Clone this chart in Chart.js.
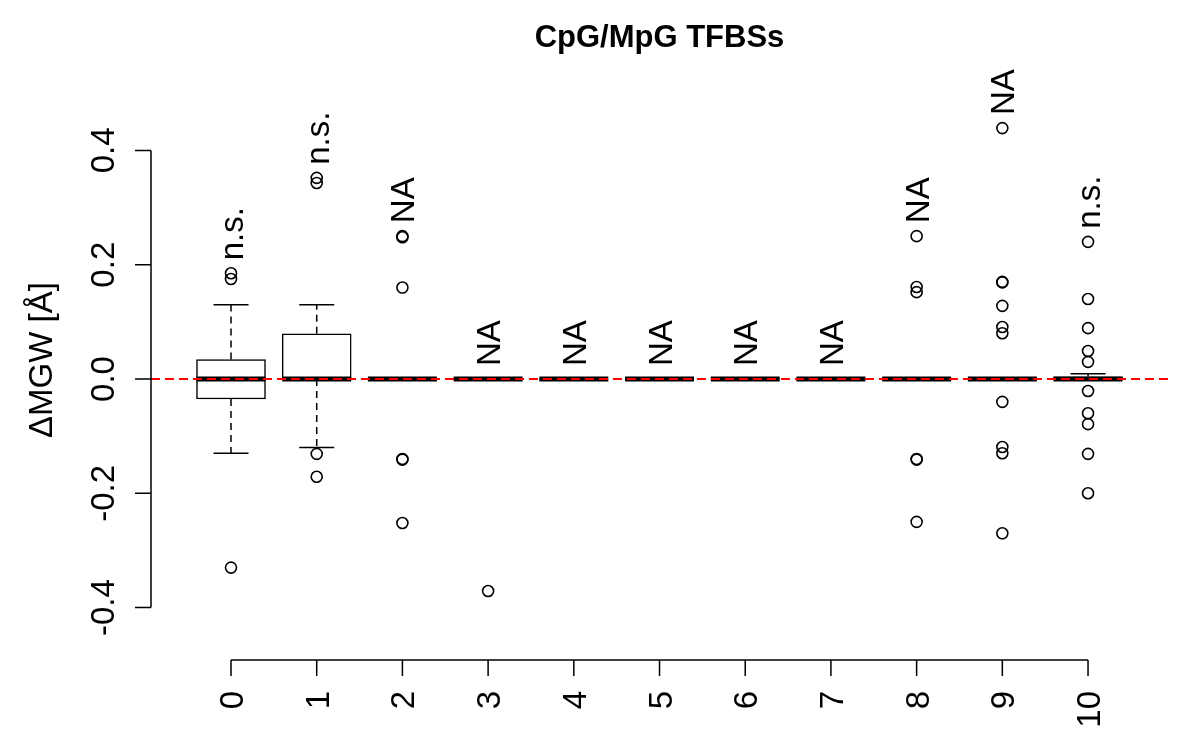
<!DOCTYPE html>
<html>
<head>
<meta charset="utf-8">
<title>CpG/MpG TFBSs</title>
<script src="https://cdn.jsdelivr.net/npm/chart.js@4"></script>
<style>
  html, body { margin: 0; padding: 0; background: #ffffff; }
  canvas { display: block; }
</style>
</head>
<body>
<canvas id="boxplotMGW" width="1200" height="750"></canvas>
<script>
// categories on the x axis
const categories = ['0', '1', '2', '3', '4', '5', '6', '7', '8', '9', '10'];

// box statistics, one value per category
const lowerWhisker = [-0.13, -0.12, 0, 0, 0, 0, 0, 0, 0, 0, 0];
const q1 = [-0.035, 0, 0, 0, 0, 0, 0, 0, 0, 0, 0];
const medians = [0, 0, 0, 0, 0, 0, 0, 0, 0, 0, 0];
const q3 = [0.034, 0.079, 0, 0, 0, 0, 0, 0, 0, 0, 0.004];
const upperWhisker = [0.13, 0.13, 0, 0, 0, 0, 0, 0, 0, 0, 0.009];

// outliers per category
const outliers = [
  [0.185, 0.175, -0.33],
  [0.352, 0.343, -0.131, -0.171],
  [0.25, 0.248, 0.16, -0.14, -0.141, -0.252],
  [-0.371],
  [],
  [],
  [],
  [],
  [0.25, 0.161, 0.152, -0.14, -0.141, -0.25],
  [0.439, 0.17, 0.169, 0.128, 0.091, 0.08, -0.04, -0.119, -0.13, -0.27],
  [0.24, 0.14, 0.089, 0.049, 0.03, -0.021, -0.06, -0.079, -0.131, -0.2]
];

// test result written above each box
const significance = ['n.s.', 'n.s.', 'NA', 'NA', 'NA', 'NA', 'NA', 'NA', 'NA', 'NA', 'n.s.'];

// y tick values
const yTicks = [-0.4, -0.2, 0, 0.2, 0.4];

const titleText = 'CpG/MpG TFBSs';
const yTitle = 'ΔMGW [Å]';

// plot limits (R style, 4% extension)
const xMin = 0.0665, xMax = 11.933;
const yMin = -0.4042, yMax = 0.4707;

const FONT = "'Liberation Sans', Arial, Helvetica, sans-serif";

// positions of categories on the linear x scale
const xPos = categories.map((c, i) => i + 1);

// whisker segments, separated by gaps
const whiskerData = [];
xPos.forEach((x, i) => {
  whiskerData.push({x: x, y: q3[i]}, {x: x, y: upperWhisker[i]}, {x: x, y: null});
  whiskerData.push({x: x, y: q1[i]}, {x: x, y: lowerWhisker[i]}, {x: x, y: null});
});

const capData = [];
xPos.forEach((x, i) => {
  capData.push({x: x, y: upperWhisker[i]}, {x: x, y: lowerWhisker[i]});
});

const outlierData = [];
xPos.forEach((x, i) => {
  outliers[i].forEach(v => outlierData.push({x: x, y: v}));
});

// axes drawn the R way (offset x axis, rotated labels)
const rAxes = {
  id: 'rAxes',
  afterDraw(chart) {
    const ctx = chart.ctx;
    const xs = chart.scales.x, ys = chart.scales.y;
    const area = chart.chartArea;
    ctx.save();
    ctx.strokeStyle = '#000';
    ctx.fillStyle = '#000';
    ctx.lineWidth = 1.5;

    // y axis
    const yAxisX = area.left;
    ctx.beginPath();
    ctx.moveTo(yAxisX, ys.getPixelForValue(yTicks[0]));
    ctx.lineTo(yAxisX, ys.getPixelForValue(yTicks[yTicks.length - 1]));
    yTicks.forEach(t => {
      const py = ys.getPixelForValue(t);
      ctx.moveTo(yAxisX, py);
      ctx.lineTo(yAxisX - 16, py);
    });
    ctx.stroke();
    ctx.font = '33px ' + FONT;
    yTicks.forEach(t => {
      ctx.save();
      ctx.translate(yAxisX - 37, ys.getPixelForValue(t));
      ctx.rotate(-Math.PI / 2);
      ctx.textAlign = 'center';
      ctx.textBaseline = 'alphabetic';
      ctx.fillText(t.toFixed(1), 0, 0);
      ctx.restore();
    });

    // y axis title
    ctx.save();
    ctx.translate(52, (area.top + area.bottom) / 2);
    ctx.rotate(-Math.PI / 2);
    ctx.textAlign = 'center';
    ctx.textBaseline = 'alphabetic';
    ctx.fillText(yTitle, 0, 0);
    ctx.restore();

    // x axis
    const xAxisY = area.bottom + 50;
    ctx.beginPath();
    ctx.moveTo(xs.getPixelForValue(xPos[0]), xAxisY);
    ctx.lineTo(xs.getPixelForValue(xPos[xPos.length - 1]), xAxisY);
    xPos.forEach(x => {
      const px = xs.getPixelForValue(x);
      ctx.moveTo(px, xAxisY);
      ctx.lineTo(px, xAxisY + 16);
    });
    ctx.stroke();
    categories.forEach((c, i) => {
      ctx.save();
      ctx.translate(xs.getPixelForValue(xPos[i]) + 12, xAxisY + 31);
      ctx.rotate(-Math.PI / 2);
      ctx.textAlign = 'right';
      ctx.textBaseline = 'alphabetic';
      ctx.fillText(c, 0, 0);
      ctx.restore();
    });

    // significance labels above the highest point of each group
    categories.forEach((c, i) => {
      const top = Math.max(upperWhisker[i], q3[i], ...outliers[i]);
      ctx.save();
      ctx.translate(xs.getPixelForValue(xPos[i]) + 12, ys.getPixelForValue(top) - 13);
      ctx.rotate(-Math.PI / 2);
      ctx.textAlign = 'left';
      ctx.textBaseline = 'alphabetic';
      ctx.fillText(significance[i], 0, 0);
      ctx.restore();
    });

    // title
    ctx.font = 'bold 31px ' + FONT;
    ctx.textAlign = 'center';
    ctx.textBaseline = 'alphabetic';
    ctx.fillText(titleText, (area.left + area.right) / 2, 47);
    ctx.restore();
  }
};

const ctx = document.getElementById('boxplotMGW').getContext('2d');
new Chart(ctx, {
  type: 'scatter',
  data: {
    datasets: [
      {
        type: 'line',
        label: 'whiskers',
        data: whiskerData,
        borderColor: '#000',
        borderWidth: 1.5,
        borderDash: [7, 5],
        pointRadius: 0,
        spanGaps: false,
        order: 5
      },
      {
        type: 'scatter',
        label: 'caps',
        data: capData,
        pointStyle: 'line',
        pointRadius: 17.5,
        pointBorderWidth: 1.5,
        pointBorderColor: '#000',
        order: 4
      },
      {
        type: 'bar',
        label: 'boxes',
        data: xPos.map((x, i) => ({x: x, y: [q1[i], q3[i]]})),
        backgroundColor: '#fff',
        borderColor: '#000',
        borderWidth: 1.5,
        borderSkipped: false,
        barThickness: 69,
        order: 3
      },
      {
        type: 'scatter',
        label: 'medians',
        data: xPos.map((x, i) => ({x: x, y: medians[i]})),
        pointStyle: 'line',
        pointRadius: 34.5,
        pointBorderWidth: 5,
        pointBorderColor: '#000',
        order: 2
      },
      {
        type: 'scatter',
        label: 'outliers',
        data: outlierData,
        pointStyle: 'circle',
        pointRadius: 5.5,
        pointBorderWidth: 1.6,
        pointBorderColor: '#000',
        pointBackgroundColor: 'rgba(0,0,0,0)',
        order: 1
      },
      {
        type: 'line',
        label: 'zero',
        data: [{x: xMin, y: 0}, {x: xMax, y: 0}],
        borderColor: '#ff0000',
        borderWidth: 2,
        borderDash: [9, 5],
        pointRadius: 0,
        order: 0
      }
    ]
  },
  options: {
    responsive: false,
    animation: false,
    devicePixelRatio: 1,
    events: [],
    layout: {autoPadding: false, padding: {left: 151, right: 32, top: 110, bottom: 140}},
    plugins: {
      legend: {display: false},
      tooltip: {enabled: false},
      title: {display: false}
    },
    scales: {
      x: {type: 'linear', display: false, min: xMin, max: xMax, offset: false},
      y: {type: 'linear', display: false, min: yMin, max: yMax}
    }
  },
  plugins: [rAxes]
});
</script>
</body>
</html>
